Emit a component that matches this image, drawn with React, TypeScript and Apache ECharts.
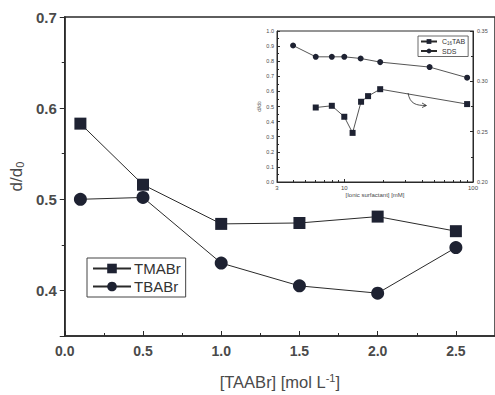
import React, { useEffect, useRef } from "react";
import * as echarts from "echarts";

// Main chart data
const mainX = [0.1, 0.5, 1.0, 1.5, 2.0, 2.5];
const tmabr = [0.583, 0.516, 0.473, 0.474, 0.481, 0.465];
const tbabr = [0.5, 0.502, 0.43, 0.405, 0.397, 0.447];

// Inset data
const sdsX = [4.0, 6, 8, 10, 13.4, 19, 46, 90];
const sdsY = [0.904, 0.829, 0.829, 0.829, 0.818, 0.794, 0.761, 0.691];
const ctabX = [6, 8, 10, 11.6, 13.5, 15.3, 19, 90];
const ctabY = [0.274, 0.2757, 0.2648, 0.2488, 0.2797, 0.2853, 0.2922, 0.2774];

const INK = "#2a2a2a";
const MARK = "#1e2232";
const TXT = "#4a4a4a";
const FONT = "Liberation Sans, Arial, sans-serif";

export default function App() {
  const ref = useRef<HTMLDivElement>(null);
  useEffect(() => {
    const chart = echarts.init(ref.current!, null, { renderer: "svg" });
    const pair = (xs: number[], ys: number[]) => xs.map((x, i) => [x, ys[i]]);
    chart.setOption({
      animation: false,
      backgroundColor: "#ffffff",
      textStyle: { fontFamily: FONT },
      grid: [
        { left: 62, top: 17, right: -2, bottom: 57, show: true, borderColor: INK, borderWidth: 1.5, backgroundColor: "transparent" },
        { left: 277, top: 31, width: 196, height: 151, show: true, borderColor: INK, borderWidth: 1, backgroundColor: "#ffffff" },
      ],
      xAxis: [
        {
          type: "value", gridIndex: 0, min: 0, max: 2.75, interval: 0.5,
          axisLine: { lineStyle: { color: INK, width: 1.5 } },
          axisTick: { inside: true, length: 5, lineStyle: { color: INK } },
          minorTick: { show: true, splitNumber: 2, length: 3, lineStyle: { color: INK } },
          splitLine: { show: false },
          axisLabel: { showMaxLabel: false, color: TXT, fontSize: 14, fontWeight: "bold", margin: 8, formatter: (v: number) => v.toFixed(1) },
          name: "{a|[TAABr] [mol L}{s|-1}{a|]}",
          nameLocation: "middle", nameGap: 36,
          nameTextStyle: { rich: { a: { fontSize: 16.5, color: TXT, fontFamily: FONT }, s: { fontSize: 11, color: TXT, verticalAlign: "top", padding: [0, 0, 8, 0], fontFamily: FONT } } },
        },
        {
          type: "log", gridIndex: 1, min: 3, max: 100, logBase: 10,
          axisLine: { lineStyle: { color: INK, width: 1 } },
          axisTick: { inside: true, length: 3, lineStyle: { color: INK } },
          minorTick: { show: true, splitNumber: 9, length: 2, lineStyle: { color: INK } },
          splitLine: { show: false },
          axisLabel: { color: TXT, fontSize: 6, margin: 3 },
          name: "[Ionic surfactant] [mM]",
          nameLocation: "middle", nameGap: 10,
          nameTextStyle: { fontSize: 6, color: TXT },
        },
      ],
      yAxis: [
        {
          type: "value", gridIndex: 0, min: 0.35, max: 0.7, splitNumber: 3,
          axisLine: { lineStyle: { color: INK, width: 1.5 } },
          axisTick: { inside: false, length: 5, lineStyle: { color: INK } },
          minorTick: { show: true, splitNumber: 2, length: 3, lineStyle: { color: INK } },
          splitLine: { show: false },
          axisLabel: { showMinLabel: false, color: TXT, fontSize: 15, fontWeight: "bold", margin: 8, formatter: (v: number) => v.toFixed(1) },
          name: "{a|d/d}{s|0}",
          nameLocation: "middle", nameGap: 36, nameRotate: 90,
          nameTextStyle: { rich: { a: { fontSize: 17, color: TXT, fontFamily: FONT }, s: { fontSize: 11, color: TXT, verticalAlign: "bottom", padding: [6, 0, 0, 0], fontFamily: FONT } } },
        },
        {
          type: "value", gridIndex: 1, min: 0, max: 1.0, interval: 0.1, position: "left",
          axisLine: { lineStyle: { color: INK, width: 1 } },
          axisTick: { inside: true, length: 3, lineStyle: { color: INK } },
          minorTick: { show: true, splitNumber: 2, length: 2, lineStyle: { color: INK } },
          splitLine: { show: false },
          axisLabel: { color: TXT, fontSize: 5.5, margin: 3, formatter: (v: number) => v.toFixed(1) },
          name: "{a|d/d}{s|0}",
          nameLocation: "middle", nameGap: 14, nameRotate: 90,
          nameTextStyle: { rich: { a: { fontSize: 6, color: TXT }, s: { fontSize: 4, color: TXT } } },
        },
        {
          type: "value", gridIndex: 1, min: 0.2, max: 0.35, interval: 0.05, position: "right",
          axisLine: { show: true, lineStyle: { color: INK, width: 1 } },
          axisTick: { inside: true, length: 3, lineStyle: { color: INK } },
          minorTick: { show: true, splitNumber: 2, length: 2, lineStyle: { color: INK } },
          splitLine: { show: false },
          axisLabel: { color: TXT, fontSize: 5.5, margin: 4, formatter: (v: number) => v.toFixed(2) },
        },
      ],
      legend: [
        {
          data: ["TMABr", "TBABr"],
          left: 87, top: 258, orient: "vertical",
          padding: [3, 5, 3, 5], itemGap: 3, itemWidth: 38, itemHeight: 12,
          borderColor: "#444", borderWidth: 1,
          textStyle: { fontSize: 15, color: "#333", fontFamily: FONT, padding: [0, 0, 0, -2] },
        },
        {
          data: ["C16TAB", "SDS"],
          left: 418, top: 36, orient: "vertical",
          padding: [2, 3, 2, 2], itemGap: 2, itemWidth: 16, itemHeight: 6,
          borderColor: "#444", borderWidth: 0.8,
          formatter: (n: string) => (n === "C16TAB" ? "{a|C}{s|16}{a|TAB}" : "{a|SDS}"),
          textStyle: { fontSize: 7, color: "#333", rich: { a: { fontSize: 7, color: "#333" }, s: { fontSize: 4.5, color: "#333", verticalAlign: "bottom", padding: [3, 0, 0, 0] } } },
        },
      ],
      series: [
        {
          name: "TMABr", type: "line", xAxisIndex: 0, yAxisIndex: 0,
          data: pair(mainX, tmabr), symbol: "rect", symbolSize: 12,
          itemStyle: { color: MARK }, lineStyle: { color: INK, width: 1 },
        },
        {
          name: "TBABr", type: "line", xAxisIndex: 0, yAxisIndex: 0,
          data: pair(mainX, tbabr), symbol: "circle", symbolSize: 13,
          itemStyle: { color: MARK }, lineStyle: { color: INK, width: 1 },
        },
        {
          name: "C16TAB", type: "line", xAxisIndex: 1, yAxisIndex: 2,
          data: pair(ctabX, ctabY), symbol: "rect", symbolSize: 6,
          itemStyle: { color: MARK }, lineStyle: { color: INK, width: 0.8 },
        },
        {
          name: "SDS", type: "line", xAxisIndex: 1, yAxisIndex: 1,
          data: pair(sdsX, sdsY), symbol: "circle", symbolSize: 6,
          itemStyle: { color: MARK }, lineStyle: { color: INK, width: 0.8 },
        },
      ],
      graphic: [
        {
          type: "bezierCurve",
          shape: { x1: 408, y1: 93, cpx1: 410, cpy1: 104, cpx2: 416, cpy2: 105.5, x2: 426, y2: 105.5 },
          style: { stroke: INK, lineWidth: 0.8, fill: null },
        },
        {
          type: "polyline",
          shape: { points: [[422, 103], [426.5, 105.5], [422, 107.5]] },
          style: { stroke: INK, lineWidth: 0.8, fill: null },
        },
      ],
    });
    return () => chart.dispose();
  }, []);
  return <div ref={ref} style={{ position: "fixed", left: 0, top: 0, width: 495, height: 395 }} />;
}
